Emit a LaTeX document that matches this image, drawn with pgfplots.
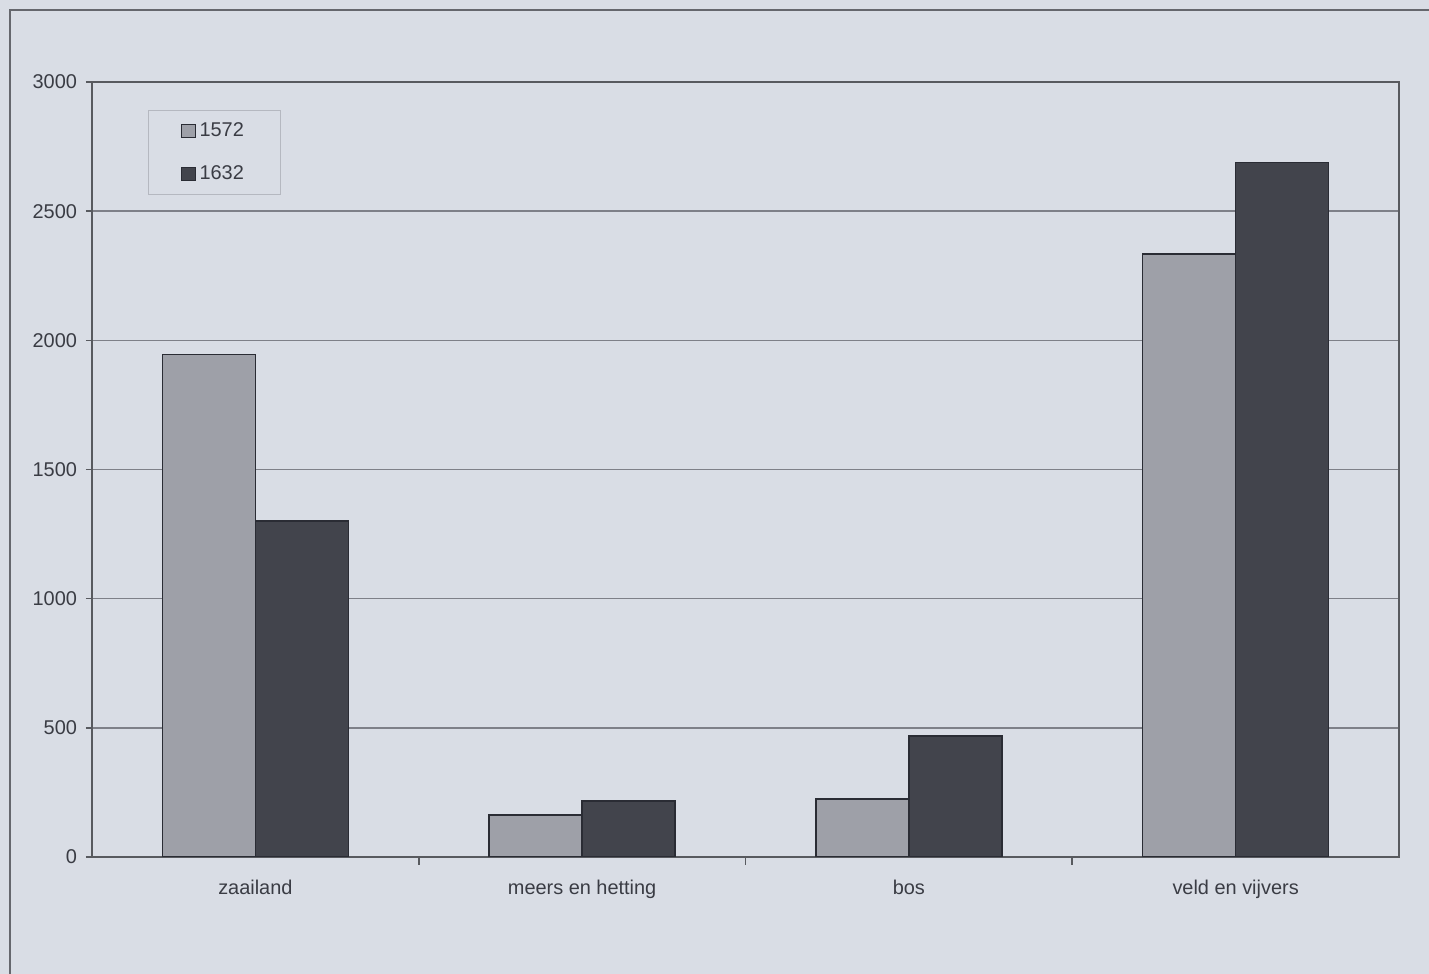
\documentclass[border=0pt]{standalone}
\usepackage{pgfplots}
\pgfplotsset{compat=1.18}
\usepackage{fontspec}
\setmainfont{Liberation Sans}
\definecolor{bg}{HTML}{D9DDE5}
\definecolor{lightbar}{HTML}{9EA0A8}
\definecolor{darkbar}{HTML}{42444C}
\definecolor{edgec}{HTML}{2A2C34}
\definecolor{gridc}{HTML}{7E8088}
\definecolor{txt}{HTML}{3A3C44}
\begin{document}
\begin{tikzpicture}[x=1bp,y=1bp]
\fill[bg] (0,0) rectangle (714.5,487);
\useasboundingbox (0,0) rectangle (714.5,487);
\draw[gridc!80!black, line width=1bp] (5,-5) -- (5,482) -- (720,482);
\begin{axis}[
  at={(46bp,58.5bp)}, anchor=south west,
  scale only axis, width=653.5bp, height=387.5bp,
  ybar=0pt, bar width=46.5bp,
  xmin=-0.5, xmax=3.5, ymin=0, ymax=3000,
  xtick={0,1,2,3},
  xticklabels={zaailand, meers en hetting, bos, veld en vijvers},
  minor xtick={0.5,1.5,2.5},
  ytick={0,500,1000,1500,2000,2500,3000},
  ymajorgrids, grid style={gridc, line width=0.7bp},
  axis line style={gridc!70!black, line width=0.9bp},
  tick style={gridc!70!black, line width=0.8bp},
  tick align=outside, tick pos=left,
  major tick length=3bp, minor tick length=4bp,
  major x tick style={draw=none},
  ticklabel style={font=\fontsize{10}{12}\selectfont, text=txt},
  /pgf/number format/assume math mode=true,
  /pgf/number format/1000 sep={},
  yticklabel style={xshift=-1bp},
  xticklabel style={yshift=-5bp},
  axis background/.style={fill=bg},
  legend style={at={(axis description cs:0.0428,0.9639)}, anchor=north west,
    draw=gridc!40!bg, fill=bg, font=\fontsize{10}{12}\selectfont, text=txt,
    inner xsep=16.5bp, inner ysep=4bp, row sep=9bp,
    legend cell align=left},
  legend image code/.code={\draw[#1, line width=0.5bp] (0bp,-3.3bp) rectangle (6.6bp,3.3bp);},
]
\addplot[fill=lightbar, draw=edgec, line width=0.8bp] coordinates {(0,1945) (1,163) (2,225) (3,2335)};
\addplot[fill=darkbar, draw=edgec, line width=0.8bp] coordinates {(0,1300) (1,217) (2,468) (3,2688)};
\legend{1572,1632}
\end{axis}
\end{tikzpicture}
\end{document}
